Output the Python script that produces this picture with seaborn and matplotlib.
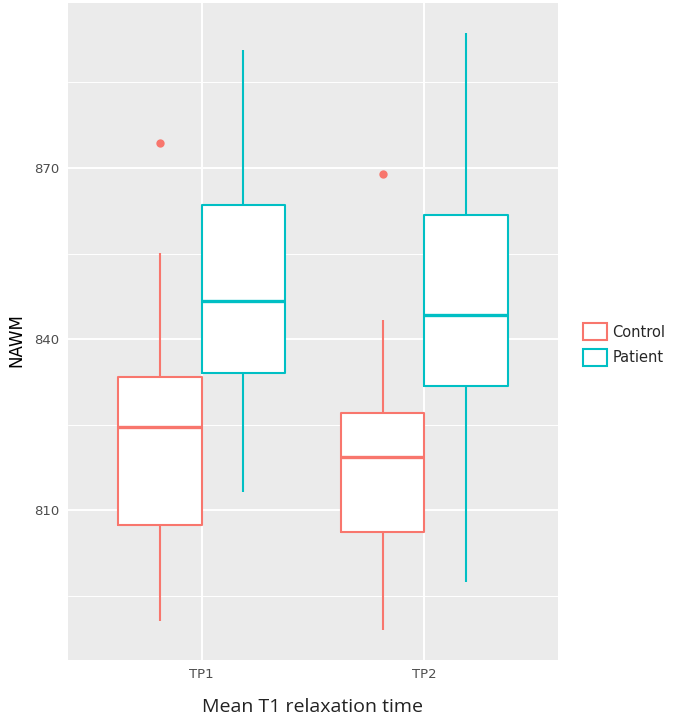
import seaborn as sns
import numpy as np
import pandas as pd
import matplotlib.pyplot as plt
from matplotlib.ticker import MultipleLocator

timepoints = ['TP1', 'TP2']
groups = ['Control', 'Patient']

# box summaries: lower whisker, Q1, median, Q3, upper whisker
control_tp1 = [790.7, 807.5, 824.7, 833.4, 855.1]
patient_tp1 = [813.3, 834.1, 846.7, 863.5, 890.6]
control_tp2 = [789.0, 806.3, 819.4, 827.1, 843.3]
patient_tp2 = [797.5, 831.8, 844.3, 861.8, 893.7]

# points beyond the whiskers
outlier_time = ['TP1', 'TP2']
outlier_group = ['Control', 'Control']
outlier_value = [874.3, 868.9]

palette = {'Control': '#F8766D', 'Patient': '#00BFC4'}

rows = []
for tp, grp, vals in [('TP1', 'Control', control_tp1), ('TP1', 'Patient', patient_tp1),
                      ('TP2', 'Control', control_tp2), ('TP2', 'Patient', patient_tp2)]:
    for v in vals:
        rows.append((tp, grp, v))
df = pd.DataFrame(rows, columns=['time', 'group', 'NAWM'])
out_df = pd.DataFrame({'time': outlier_time, 'group': outlier_group, 'NAWM': outlier_value})

sns.set_theme(style='darkgrid', rc={'axes.facecolor': '#EBEBEB', 'grid.color': 'white'})
plt.rcParams['font.family'] = ['DejaVu Sans']

fig = plt.figure(figsize=(6.8, 7.23), dpi=100)
ax = fig.add_axes([68 / 680, 63 / 723, 490 / 680, 657 / 723])

# white fill underneath
sns.boxplot(data=df, x='time', y='NAWM', hue='group', order=timepoints, hue_order=groups,
            palette={g: 'white' for g in groups}, linecolor='white', linewidth=0,
            width=0.75, gap=0, whis=1.5, showfliers=False, showcaps=False,
            legend=False, ax=ax)
# coloured outlines on top
sns.boxplot(data=df, x='time', y='NAWM', hue='group', order=timepoints, hue_order=groups,
            palette=palette, fill=False, linewidth=1.5, width=0.75, gap=0, whis=1.5,
            showfliers=False, showcaps=False, medianprops={'linewidth': 2.4}, ax=ax)

sns.stripplot(data=out_df, x='time', y='NAWM', hue='group', order=timepoints,
              hue_order=groups, palette=palette, dodge=True, jitter=False, size=6,
              linewidth=0, legend=False, ax=ax)
# stripplot dodges by 0.2, boxes sit at 0.1875
for coll in ax.collections:
    offs = coll.get_offsets()
    if len(offs):
        base = np.round(offs[:, 0])
        offs[:, 0] = base + (offs[:, 0] - base) * 0.75 / 0.8
        coll.set_offsets(offs)

ax.set_xlim(-0.6, 1.6)
ax.set_ylim(783.8, 898.9)
ax.set_yticks([810, 840, 870])
ax.yaxis.set_minor_locator(MultipleLocator(15))
ax.grid(which='major', color='white', linewidth=1.4)
ax.grid(which='minor', axis='y', color='white', linewidth=0.7)
ax.tick_params(axis='both', which='major', length=3, width=1, color='#333333',
               labelcolor='#4D4D4D', labelsize=9.5, pad=3)
ax.tick_params(which='minor', length=0)
for s in ax.spines.values():
    s.set_visible(False)

ax.set_ylabel('NAWM', fontsize=12, color='black')
ax.yaxis.set_label_coords(-0.088, 0.487)
ax.set_xlabel('Mean T1 relaxation time', fontsize=14, family='Open Sans', color='#222222')
ax.xaxis.set_label_coords(0.498, -0.058)

sns.move_legend(ax, 'center left', bbox_to_anchor=(1.04, 0.48), title=None,
                frameon=False, fontsize=10.5, handlelength=1.6, handleheight=1.4,
                borderaxespad=0, labelspacing=0.6, handletextpad=0.4)

fig.savefig('out.png', dpi=100)
